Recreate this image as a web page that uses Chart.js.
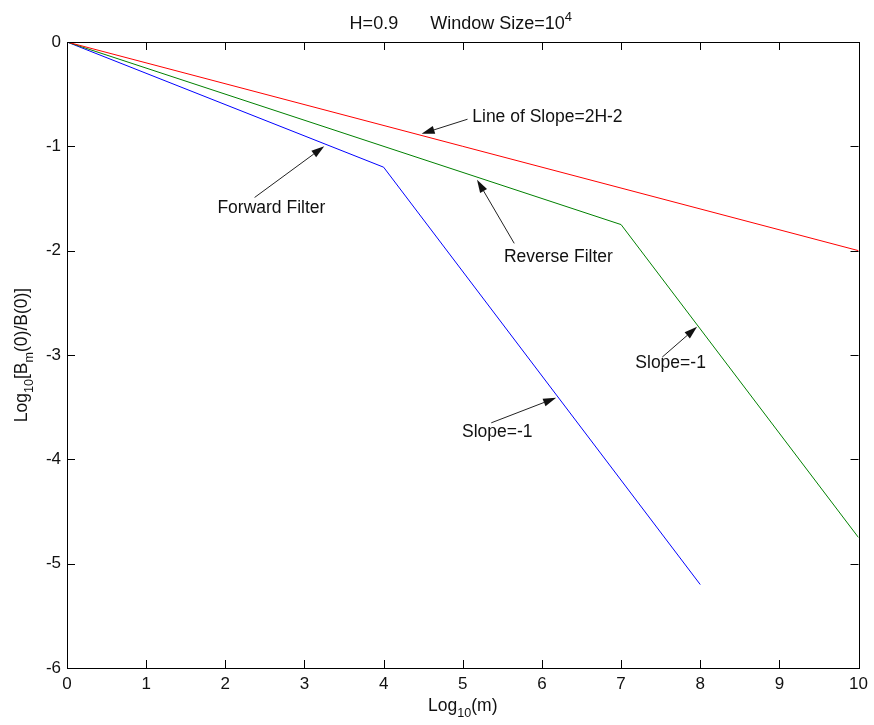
<!DOCTYPE html>
<html>
<head>
<meta charset="utf-8">
<script src="https://cdn.jsdelivr.net/npm/chart.js@4/dist/chart.umd.min.js"></script>
<style>
  html, body { margin: 0; padding: 0; background: #fff; }
  #wrap { width: 874px; height: 725px; }
</style>
</head>
<body>
<div id="wrap"><canvas id="decay"></canvas></div>
<script>
// log10(m) against log10[Bm(0)/B(0)]
var refX = [0, 10];
var refY = [0, -2];
var reverseX = [0, 7, 10];
var reverseY = [0, -1.75, -4.75];
var forwardX = [0, 4, 8];
var forwardY = [0, -1.2, -5.2];

var xTicks = [0, 1, 2, 3, 4, 5, 6, 7, 8, 9, 10];
var yTicks = [0, -1, -2, -3, -4, -5, -6];

// label text, label anchor, arrow tail, arrow head (data units)
var noteText = ['Line of Slope=2H-2', 'Forward Filter', 'Reverse Filter', 'Slope=-1', 'Slope=-1'];
var noteAt   = [[5.12, -0.72], [1.90, -1.59], [5.52, -2.06], [7.18, -3.08], [4.99, -3.74]];
var noteTail = [[5.06, -0.74], [2.37, -1.49], [5.65, -1.93], [7.52, -3.02], [5.36, -3.65]];
var noteHead = [[4.48, -0.88], [3.25, -1.00], [5.18, -1.32], [7.96, -2.73], [6.18, -3.41]];

var FONT = '"Liberation Sans", Arial, Helvetica, sans-serif';
var FS = 17.5;

function pts(xs, ys) {
	return xs.map(function (x, i) { return {x: x, y: ys[i]}; });
}

// draws text pieces with sub/superscripts, returns width
function richText(ctx, parts, x, y, size, measureOnly) {
	var w = 0;
	parts.forEach(function (p) {
		var fs = p[1] ? size * 0.72 : size;
		var dy = p[1] === 'sub' ? size * 0.32 : (p[1] === 'sup' ? -size * 0.42 : 0);
		ctx.font = fs + 'px ' + FONT;
		if (!measureOnly) ctx.fillText(p[0], x + w, y + dy);
		w += ctx.measureText(p[0]).width + (p[2] || 0);
	});
	return w;
}

function arrow(ctx, x0, y0, x1, y1) {
	var a = Math.atan2(y1 - y0, x1 - x0);
	var len = 13, half = 4;
	var bx = x1 - len * Math.cos(a), by = y1 - len * Math.sin(a);
	ctx.beginPath();
	ctx.moveTo(x0, y0);
	ctx.lineTo(bx, by);
	ctx.stroke();
	ctx.beginPath();
	ctx.moveTo(x1, y1);
	ctx.lineTo(bx + half * Math.sin(a), by - half * Math.cos(a));
	ctx.lineTo(bx - half * Math.sin(a), by + half * Math.cos(a));
	ctx.closePath();
	ctx.fill();
}

var decor = {
	id: 'decor',
	afterDraw: function (chart) {
		var ctx = chart.ctx, area = chart.chartArea;
		var xs = chart.scales.x, ys = chart.scales.y;
		ctx.save();

		// frame with inward ticks on all sides
		ctx.strokeStyle = '#000';
		ctx.lineWidth = 1;
		ctx.strokeRect(Math.round(area.left) + 0.5, Math.round(area.top) + 0.5,
			Math.round(area.right - area.left), Math.round(area.bottom - area.top));
		var tl = 8;
		ctx.beginPath();
		xTicks.forEach(function (v) {
			var px = Math.round(xs.getPixelForValue(v)) + 0.5;
			ctx.moveTo(px, area.bottom); ctx.lineTo(px, area.bottom - tl);
			ctx.moveTo(px, area.top); ctx.lineTo(px, area.top + tl);
		});
		yTicks.forEach(function (v) {
			var py = Math.round(ys.getPixelForValue(v)) + 0.5;
			ctx.moveTo(area.left, py); ctx.lineTo(area.left + tl, py);
			ctx.moveTo(area.right, py); ctx.lineTo(area.right - tl, py);
		});
		ctx.stroke();

		ctx.fillStyle = '#111';
		ctx.textBaseline = 'alphabetic';
		ctx.textAlign = 'left';

		// title
		var cx = (area.left + area.right) / 2;
		var title = [['H=0.9', '', 32], ['Window Size=10', ''], ['4', 'sup']];
		var tw = richText(ctx, title, 0, 0, 18, true);
		richText(ctx, title, cx - 2 - tw / 2, 29, 18);

		// x axis title
		var xt = [['Log', ''], ['10', 'sub'], ['(m)', '']];
		var xw = richText(ctx, xt, 0, 0, FS, true);
		richText(ctx, xt, cx - xw / 2, 711, FS);

		// y axis title
		var yt = [['Log', ''], ['10', 'sub'], ['[B', ''], ['m', 'sub'], ['(0)/B(0)]', '']];
		var yw = richText(ctx, yt, 0, 0, FS, true);
		ctx.save();
		ctx.translate(27, (area.top + area.bottom) / 2);
		ctx.rotate(-Math.PI / 2);
		richText(ctx, yt, -yw / 2, 0, FS);
		ctx.restore();

		// annotations
		ctx.font = FS + 'px ' + FONT;
		ctx.textBaseline = 'middle';
		ctx.strokeStyle = '#222';
		ctx.fillStyle = '#111';
		noteText.forEach(function (t, i) {
			ctx.fillText(t, xs.getPixelForValue(noteAt[i][0]), ys.getPixelForValue(noteAt[i][1]));
			arrow(ctx,
				xs.getPixelForValue(noteTail[i][0]), ys.getPixelForValue(noteTail[i][1]),
				xs.getPixelForValue(noteHead[i][0]), ys.getPixelForValue(noteHead[i][1]));
		});
		ctx.restore();
	}
};

var tickFont = {family: FONT, size: 17};
var noGrid = {display: false, drawTicks: false, tickLength: 0};

new Chart(document.getElementById('decay'), {
	type: 'line',
	data: {
		datasets: [
			{data: pts(refX, refY), borderColor: '#ff0000'},
			{data: pts(reverseX, reverseY), borderColor: '#008000'},
			{data: pts(forwardX, forwardY), borderColor: '#0000ff'}
		]
	},
	options: {
		responsive: true,
		maintainAspectRatio: false,
		animation: false,
		events: [],
		layout: {padding: {left: 0, right: 14, top: 42, bottom: 0}},
		elements: {
			line: {borderWidth: 1, tension: 0, fill: false},
			point: {radius: 0}
		},
		plugins: {
			legend: {display: false},
			tooltip: {enabled: false}
		},
		scales: {
			x: {
				type: 'linear',
				min: 0, max: 10,
				grid: noGrid,
				border: {display: false},
				afterFit: function (s) { s.height = 57; },
				afterBuildTicks: function (s) { s.ticks = xTicks.map(function (v) { return {value: v}; }); },
				ticks: {font: tickFont, color: '#111', padding: 6, maxRotation: 0}
			},
			y: {
				type: 'linear',
				min: -6, max: 0,
				grid: noGrid,
				border: {display: false},
				afterFit: function (s) { s.width = 67; },
				afterBuildTicks: function (s) { s.ticks = yTicks.map(function (v) { return {value: v}; }); },
				ticks: {font: tickFont, color: '#111', padding: 6}
			}
		}
	},
	plugins: [decor]
});
</script>
</body>
</html>
